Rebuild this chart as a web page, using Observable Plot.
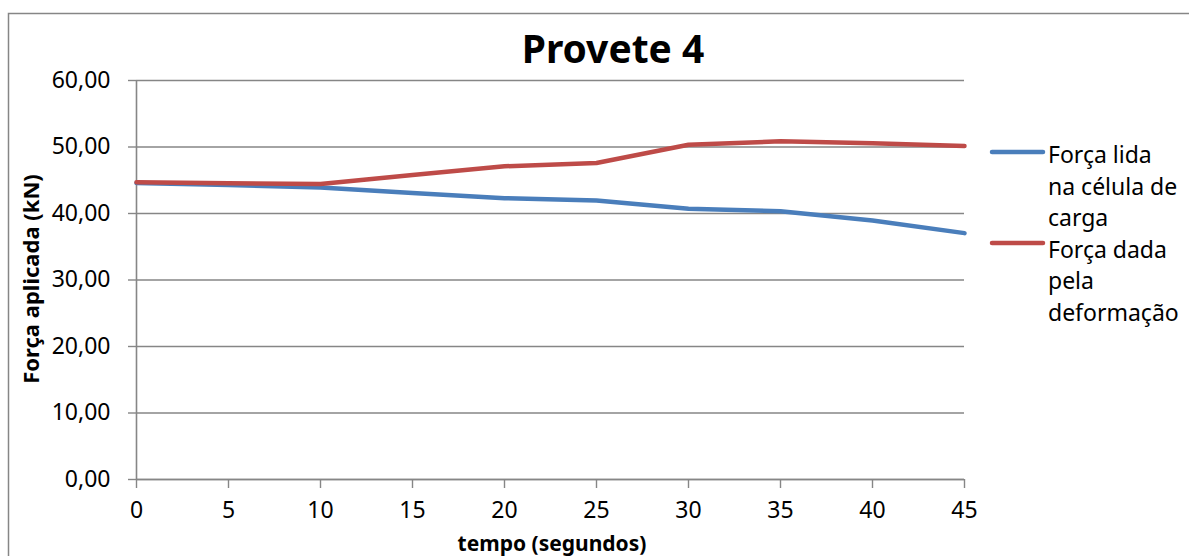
<!DOCTYPE html>
<html>
<head>
<meta charset="utf-8">
<script src="https://cdn.jsdelivr.net/npm/d3@7"></script>
<script src="https://cdn.jsdelivr.net/npm/@observablehq/plot@0.6"></script>
<style>
  html, body { margin: 0; padding: 0; background: #fff; overflow: hidden; }
  #chart { position: relative; width: 1189px; height: 556px; }
</style>
</head>
<body>
<div id="chart"></div>
<script>
// Time (seconds) and applied force (kN) for specimen 4
const tempo = [0, 5, 10, 15, 20, 25, 30, 35, 40, 45];
const forcaCelula = [44.6, 44.3, 43.9, 43.1, 42.3, 41.95, 40.7, 40.35, 38.95, 37.05];
const forcaDeformacao = [44.7, 44.55, 44.45, 45.8, 47.1, 47.6, 50.35, 50.85, 50.55, 50.15];

const xTicks = [0, 5, 10, 15, 20, 25, 30, 35, 40, 45];
const yTicks = [0, 10, 20, 30, 40, 50, 60];

const seriesNames = ["Força lida na célula de carga", "Força dada pela deformação"];
const seriesColors = ["#4a7ebb", "#be4b48"];

const rows = [
  ...tempo.map((t, i) => ({t, v: forcaCelula[i], s: seriesNames[0]})),
  ...tempo.map((t, i) => ({t, v: forcaDeformacao[i], s: seriesNames[1]}))
];

const gray = "#868686";
const fmt = d => d.toFixed(2).replace(".", ",");

const plot = Plot.plot({
  width: 1189,
  height: 556,
  marginLeft: 136,
  marginRight: 225,
  marginTop: 80,
  marginBottom: 77,
  style: {fontFamily: "'Noto Sans', sans-serif", fontSize: "23px", color: "#000", background: "transparent"},
  x: {domain: [0, 45]},
  y: {domain: [0, 60]},
  color: {domain: seriesNames, range: seriesColors},
  marks: [
    Plot.gridY(yTicks, {stroke: gray, strokeOpacity: 1, strokeWidth: 1.4}),
    Plot.ruleX([0], {stroke: gray, strokeWidth: 1.6}),
    Plot.ruleY([0], {stroke: gray, strokeWidth: 1.6}),
    Plot.axisY(yTicks, {tickSize: 8, tickPadding: 18, tickFormat: fmt, stroke: gray, strokeWidth: 1.4, fill: "#000", label: null}),
    Plot.axisX(xTicks, {tickSize: 9, tickPadding: 13, stroke: gray, strokeWidth: 1.4, fill: "#000", label: null}),
    Plot.line(rows, {x: "t", y: "v", z: "s", stroke: "s", strokeWidth: 4.5, strokeLinecap: "round", strokeLinejoin: "round"})
  ]
});

document.getElementById("chart").appendChild(plot);

const svg = d3.select(plot);

// Outer chart-area border
svg.insert("rect", ":first-child")
  .attr("x", 8.5).attr("y", 13.5)
  .attr("width", 1300).attr("height", 700)
  .attr("fill", "#fff").attr("stroke", gray).attr("stroke-width", 1.5);

// Title
svg.append("text")
  .attr("x", 613).attr("y", 63)
  .attr("text-anchor", "middle")
  .style("font-family", "'Noto Sans', sans-serif")
  .style("font-size", "39px").style("font-weight", "bold")
  .attr("fill", "#000")
  .text("Provete 4");

// Axis titles
svg.append("text")
  .attr("transform", "translate(39,279) rotate(-90)")
  .attr("text-anchor", "middle")
  .style("font-family", "'Noto Sans', sans-serif")
  .style("font-size", "22px").style("font-weight", "bold")
  .attr("fill", "#000")
  .text("Força aplicada (kN)");

svg.append("text")
  .attr("x", 552).attr("y", 551)
  .attr("text-anchor", "middle")
  .style("font-family", "'Noto Sans', sans-serif")
  .style("font-size", "21px").style("font-weight", "bold")
  .attr("fill", "#000")
  .text("tempo (segundos)");

// Legend
const legendLines = [
  ["Força lida", "na célula de", "carga"],
  ["Força dada", "pela", "deformação"]
];
const swatchY = [152, 243];
const lineH = 31.5;
legendLines.forEach((lines, i) => {
  svg.append("line")
    .attr("x1", 992).attr("x2", 1043)
    .attr("y1", swatchY[i]).attr("y2", swatchY[i])
    .attr("stroke", seriesColors[i]).attr("stroke-width", 4.5)
    .attr("stroke-linecap", "round");
  lines.forEach((txt, j) => {
    svg.append("text")
      .attr("x", 1048)
      .attr("y", 163 + (i * 3 + j) * lineH)
      .attr("text-anchor", "start")
      .style("font-family", "'Noto Sans', sans-serif")
      .style("font-size", "23px")
      .attr("fill", "#000")
      .text(txt);
  });
});
</script>
</body>
</html>
